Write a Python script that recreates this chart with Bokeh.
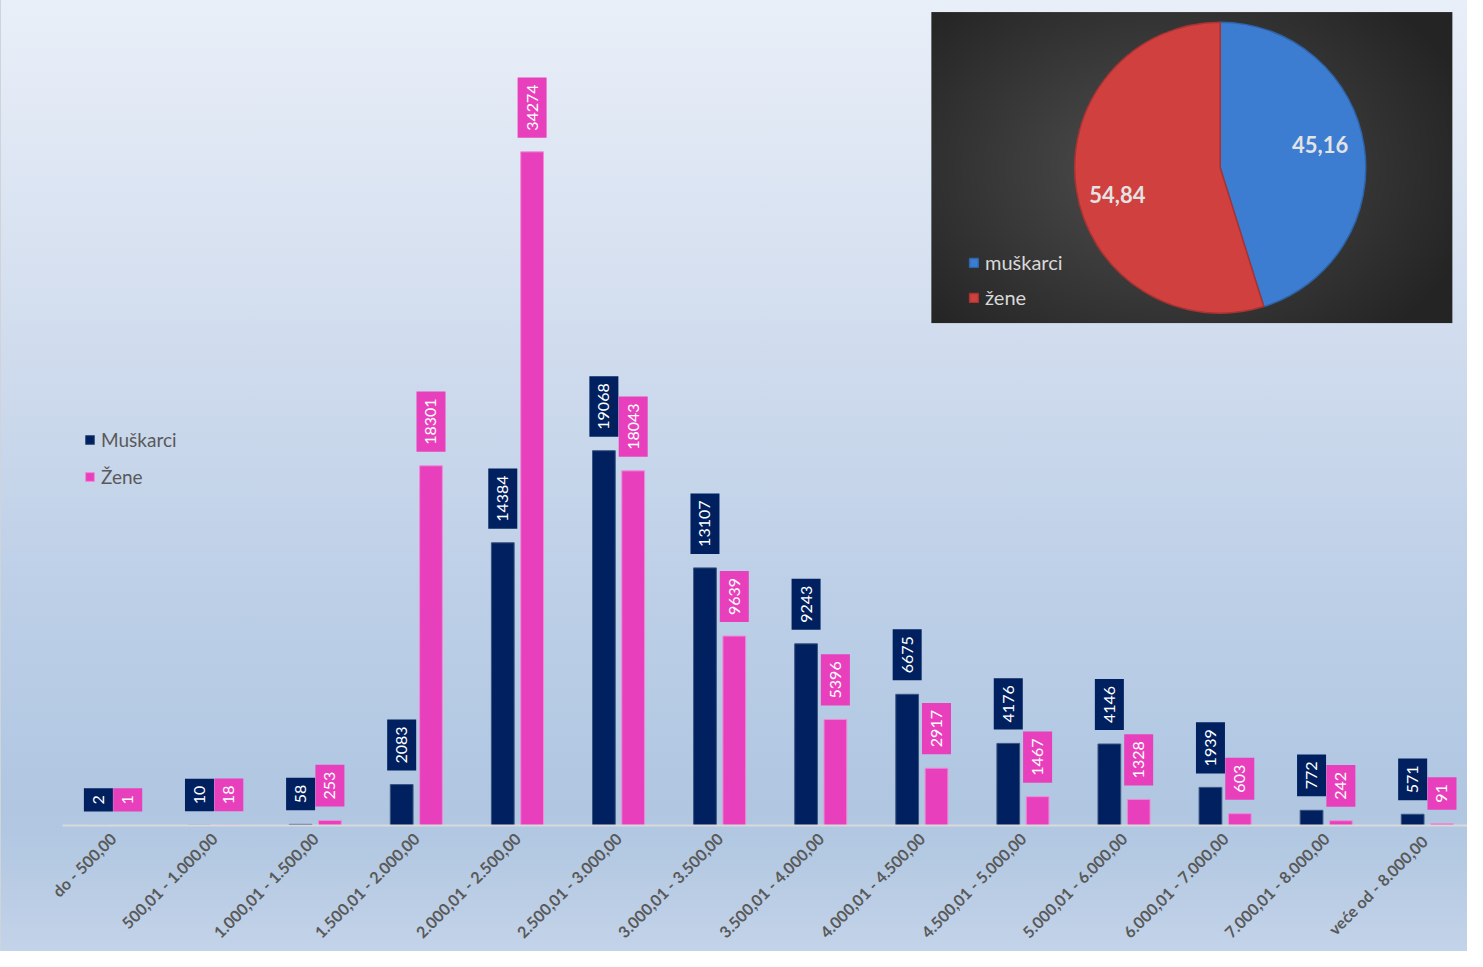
import numpy as np
from bokeh.plotting import figure
from bokeh.models import (Range1d, FixedTicker, Legend, LegendItem, ColumnDataSource)
from bokeh.core.properties import value
from bokeh.transform import dodge
from bokeh.embed import file_html
from bokeh.resources import INLINE

# ---------------- data ----------------
categories = ["do - 500,00", "500,01 - 1.000,00", "1.000,01 - 1.500,00", "1.500,01 - 2.000,00",
              "2.000,01 - 2.500,00", "2.500,01 - 3.000,00", "3.000,01 - 3.500,00", "3.500,01 - 4.000,00",
              "4.000,01 - 4.500,00", "4.500,01 - 5.000,00", "5.000,01 - 6.000,00", "6.000,01 - 7.000,00",
              "7.000,01 - 8.000,00", "veće od  - 8.000,00"]
muskarci = [2, 10, 58, 2083, 14384, 19068, 13107, 9243, 6675, 4176, 4146, 1939, 772, 571]
zene = [1, 18, 253, 18301, 34274, 18043, 9639, 5396, 2917, 1467, 1328, 603, 242, 91]

pie_labels = ["muškarci", "žene"]
pie_values = [45.16, 54.84]
pie_text = ["45,16", "54,84"]

NAVY = "#00205F"
PINK = "#E840BC"
FONT = "Lato"

# ---------------- layout (figure px) ----------------
W, H = 1467, 951
SX, SY = W / 1483, H / 967       # reference -> figure scale
FL = 61                          # frame left
BOTTOM = 126                     # space for the category axis
FB = H - BOTTOM                  # frame bottom (baseline)
FRAME_W, FRAME_H = W - FL, FB
STEP = 102.2 * SX                # px per category
PPU = 685 / 34274 * SY           # px per unit

def px(rx):
    return rx * SX - FL

def py(ry):
    return FB - ry * SY

xs = np.arange(len(categories))
p = figure(width=W, height=H, output_backend="svg", toolbar_location=None,
           x_range=Range1d(-0.5, -0.5 + FRAME_W / STEP), y_range=Range1d(0, FRAME_H / PPU),
           y_axis_location=None, min_border_left=FL, min_border_right=0, min_border_top=0,
           min_border_bottom=BOTTOM)
p.background_fill_alpha = 0
p.border_fill_alpha = 0
p.outline_line_color = None
p.grid.visible = False
p.styles = {"background": "linear-gradient(to bottom, #e9eff8 0%, #dbe4f2 21%, #ccd9ec 42%, #bccfe7 63%, #b0c6e1 85%, #b4c9e2 90%, #c3d3e9 100%)",
            "border-left": "1px solid #d0d4da"}

p.extra_x_ranges = {"px": Range1d(0, FRAME_W)}
p.extra_y_ranges = {"py": Range1d(0, FRAME_H)}

# ---------------- bars ----------------
src = ColumnDataSource(dict(
    x=xs, m=muskarci, z=zene,
    ms=[str(v) for v in muskarci], zs=[str(v) for v in zene]))
OFF, BW = 0.145, 0.225
rm = p.vbar(x=dodge("x", -OFF), top="m", width=BW, source=src, fill_color=NAVY,
            line_color="#3a5580", line_width=1)
rz = p.vbar(x=dodge("x", OFF), top="z", width=BW, source=src, fill_color=PINK,
            line_color="#f08ad6", line_width=1)

lab_kw = dict(angle=np.pi / 2, text_align="left", text_baseline="middle", y_offset=-14,
              text_color="white", text_font=value(FONT), text_font_size="16px",
              padding=dict(left=7, right=7, top=9, bottom=9))
p.text(x=dodge("x", -OFF), y="m", text="ms", source=src, background_fill_color=NAVY, **lab_kw)
p.text(x=dodge("x", OFF), y="z", text="zs", source=src, background_fill_color=PINK, **lab_kw)

# ---------------- x axis ----------------
ax = p.xaxis[0]
ax.ticker = FixedTicker(ticks=list(xs))
ax.major_label_overrides = {int(i): c for i, c in zip(xs, categories)}
ax.major_label_orientation = np.pi / 4
ax.major_label_text_font = FONT
ax.major_label_text_font_size = "16px"
ax.major_label_text_font_style = "bold"
ax.major_label_text_color = "#595959"
ax.major_label_standoff = 10
ax.major_tick_line_color = None
ax.major_tick_out = 0
ax.major_tick_in = 0
ax.minor_tick_line_color = None
ax.minor_tick_out = 0
ax.minor_tick_in = 0
ax.axis_line_color = "#d9d9d9"
ax.axis_line_width = 2

leg = Legend(items=[LegendItem(label="Muškarci", renderers=[rm]),
                    LegendItem(label="Žene", renderers=[rz])],
             location=(22, 337), orientation="vertical", background_fill_alpha=0,
             border_line_color=None, padding=0, margin=0, spacing=14,
             glyph_width=11, glyph_height=11, label_height=22, label_standoff=6,
             label_text_font=FONT, label_text_font_size="19px", label_text_color="#595959")
p.add_layout(leg)

# ---------------- pie inset ----------------
bx0, bx1, by0, by1 = 940, 1467, 12, 328
bw = int(round((bx1 - bx0) * SX))
bh = int(round((by1 - by0) * SY))
yy, xx = np.mgrid[0:bh, 0:bw]
d = np.sqrt(((xx - bw * 0.45) / (bw * 0.62)) ** 2 + ((yy - bh * 0.5) / (bh * 0.75)) ** 2)
g = np.clip(80 - 44 * d, 36, 80).astype(np.uint8)
img = np.zeros((bh, bw), dtype=np.uint32)
view = img.view(dtype=np.uint8).reshape((bh, bw, 4))
view[:, :, 0] = g
view[:, :, 1] = g
view[:, :, 2] = g
view[:, :, 3] = 255
p.image_rgba(image=[img], x=px(bx0), y=py(by1), dw=bw, dh=bh, x_range_name="px", y_range_name="py")

cx, cy, R = 1232, 170, 148 * SY
total = sum(pie_values)
angles = np.cumsum([0] + [v / total * 2 * np.pi for v in pie_values])
starts = np.pi / 2 - angles[:-1]
ends = np.pi / 2 - angles[1:]
pie_colors = ["#3C7DD2", "#CF403E"]
pie_lines = ["#2f64a8", "#a83332"]
wr = []
for i in range(2):
    r = p.wedge(x=px(cx), y=py(cy), radius=R, radius_units="screen", start_angle=starts[i],
                end_angle=ends[i], direction="clock", fill_color=pie_colors[i],
                line_color=pie_lines[i], line_width=1.5, x_range_name="px", y_range_name="py")
    wr.append(r)

p.text(x=[px(1333), px(1128)], y=[py(146), py(197)], text=pie_text, text_align="center",
       text_baseline="middle", text_color="#e3e3e3", text_font=value(FONT),
       text_font_size="22px", text_font_style="bold", x_range_name="px", y_range_name="py")

leg2 = Legend(items=[LegendItem(label=pie_labels[0], renderers=[wr[0]]),
                     LegendItem(label=pie_labels[1], renderers=[wr[1]])],
              location=(906, 516), orientation="vertical", background_fill_alpha=0,
              border_line_color=None, padding=0, margin=0, spacing=11,
              glyph_width=11, glyph_height=11, label_height=22, label_standoff=6,
              label_text_font=FONT, label_text_font_size="20px", label_text_color="#d9d9d9")
p.add_layout(leg2)

open("out.html", "w").write(file_html(p, INLINE))
